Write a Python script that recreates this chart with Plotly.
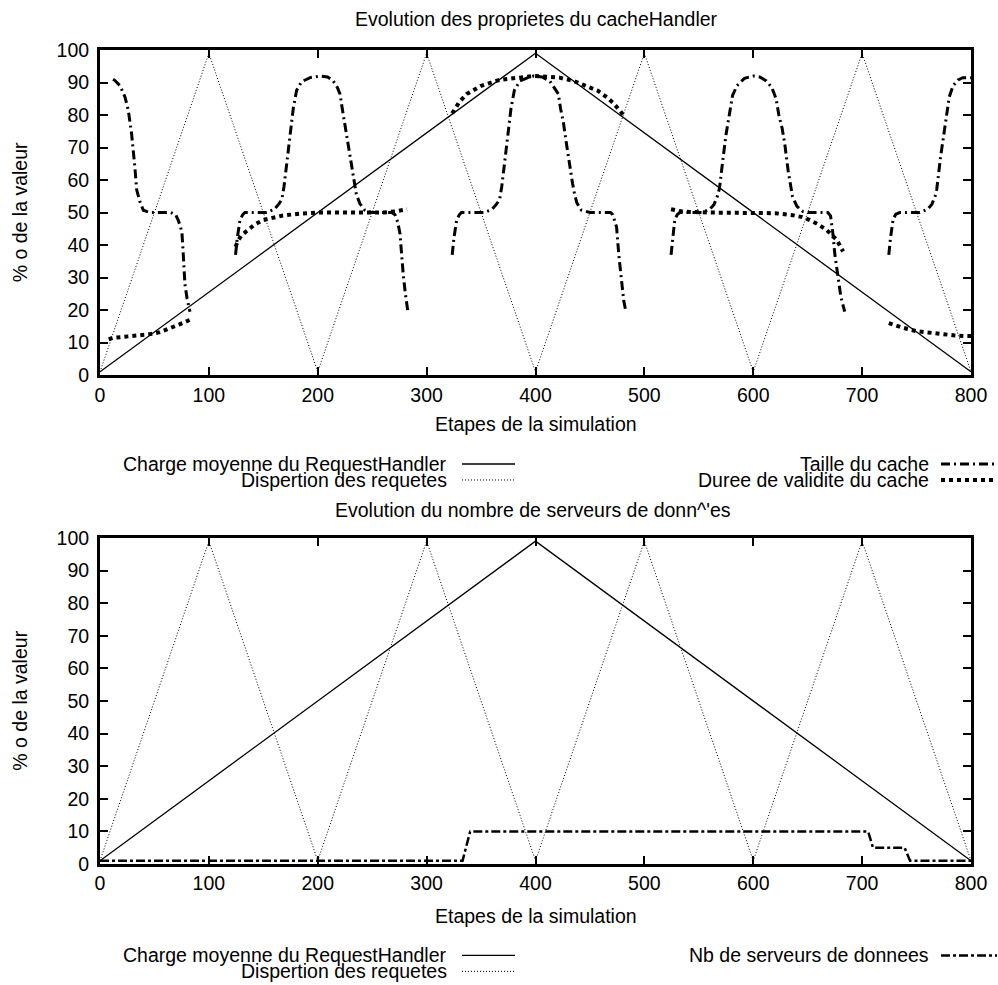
import plotly.graph_objects as go

# ---------------- data ----------------
steps_ticks = [0, 100, 200, 300, 400, 500, 600, 700, 800]
pct_ticks = [0, 10, 20, 30, 40, 50, 60, 70, 80, 90, 100]

charge_x = [0, 400, 800]
charge_y = [1, 99, 1]

disp_x = [0, 100, 200, 300, 400, 500, 600, 700, 800]
disp_y = [1, 99, 1, 99, 1, 99, 1, 99, 1]

# Taille du cache (5 segments)
taille_x1 = [12, 13.8, 18.4, 23, 26, 29, 32, 33.7, 36.7, 39.8, 46, 55, 65, 69.5, 72, 74, 75.3, 76.5, 78, 80, 82.6]
taille_y1 = [91, 90.6, 89, 85.5, 81.4, 74.3, 64, 57, 53.3, 50.7, 50, 50, 50, 49.3, 47.5, 45.5, 43.6, 37, 28, 23.5, 19.5]

taille_x2 = [124.5, 126, 128.6, 131, 133, 140, 153, 160, 164, 167, 169, 171.5, 174.5, 177.5, 180.6, 185, 193, 202, 209, 214, 218, 220.4, 222.5, 224.5, 226.5, 229, 232.6, 235.5, 238.8, 243, 250, 260, 268, 271, 273.5, 275.5, 277, 278.5, 280.5, 282.8]
taille_y2 = [37, 42, 47.7, 49.3, 50, 50, 50, 51, 52.5, 54, 58, 65, 74.3, 82, 87.6, 90.2, 91.5, 92, 91.7, 90.6, 88.5, 86.5, 82, 78, 74.3, 68, 61, 55.5, 52.7, 50.8, 50, 50, 50, 49.3, 47, 43.6, 37, 31, 25, 19.5]

taille_x3 = [323.5, 325, 327.6, 330, 332, 340, 353, 360, 364, 367, 369, 371.5, 374.5, 377.5, 380.6, 385.6, 393, 398, 406, 413, 417, 421, 423, 425.5, 428.5, 431, 434, 436, 438, 442, 450, 460, 469, 471, 473, 474.5, 476.5, 479, 481, 483]
taille_y3 = [37, 42, 47.7, 49.3, 50, 50, 50, 51, 52.5, 54, 58, 65, 74.3, 82, 87.6, 90.5, 91.5, 92, 91.7, 90.5, 88.5, 86.5, 82, 78, 71, 65, 59, 55.5, 53, 50.8, 50, 50, 50, 49.3, 47, 45.5, 37, 28, 23, 19.5]

taille_x4 = [524.5, 526, 528, 530.5, 532.6, 540, 553, 560, 564, 567, 569, 572, 575, 578.5, 581, 585, 592, 600, 606, 612, 617, 621, 623.5, 626.5, 629, 632, 636, 640, 645.6, 650, 660, 668.5, 671, 673, 675, 678, 680.5, 684]
taille_y4 = [37, 42, 48, 49.5, 50, 50, 50, 51, 52.5, 55, 57.5, 66, 74, 81, 86, 89, 91.3, 92, 91.7, 90.5, 88.5, 85, 80, 76, 71, 63, 55, 52, 50.3, 50, 50, 50, 49, 44, 37, 30, 24, 19.5]

taille_x5 = [724.5, 726, 728.5, 731, 734.6, 745, 753, 760, 764, 767, 768.5, 772, 775, 777.6, 780, 783.5, 788, 792.5, 800]
taille_y5 = [37, 42, 48, 49.5, 50, 50, 50, 51, 52.5, 55, 57, 67, 74, 81, 85.5, 89, 90.8, 91.5, 91.5]

# Duree de validite du cache (5 segments)
duree_x1 = [8, 12, 20, 30, 40, 46, 55, 62, 67, 73, 78, 82.6]
duree_y1 = [11, 11.5, 11.7, 12, 12.3, 12.6, 13.2, 14, 14.8, 15.6, 16.3, 17]

duree_x2 = [124.5, 127, 130, 135, 142, 150, 160, 168, 185, 199, 220, 240, 260, 272, 282]
duree_y2 = [39.5, 41.5, 43, 44.3, 46.3, 47.7, 48.6, 49.1, 49.7, 50, 50, 50, 50, 50.4, 51]

duree_x3 = [323.5, 330, 337, 350, 367, 385, 398, 410, 422, 435, 447, 457, 465.5, 472, 479, 482]
duree_y3 = [80.5, 84, 86.5, 89, 90.8, 91.5, 92, 91.8, 91.5, 90.5, 89, 87.5, 85.5, 83.5, 80.7, 79]

duree_x4 = [524.5, 535, 560, 600, 620, 636, 645, 652, 660, 667.5, 672, 676.7, 682.5]
duree_y4 = [51, 50.3, 50, 50, 49.8, 49.2, 48.6, 47.7, 46.3, 44.6, 43, 41.6, 38]

duree_x5 = [724.5, 735, 750, 762, 774, 785, 796, 800]
duree_y5 = [16, 14.8, 13.5, 13, 12.5, 12.2, 12, 12]

# Nb de serveurs de donnees
serveurs_x = [0, 333, 340, 705.5, 710, 739, 744, 800]
serveurs_y = [1, 1, 10, 10, 5, 5, 1, 1]

title_top = "Evolution des proprietes du cacheHandler"
title_bottom = "Evolution du nombre de serveurs de donn^'es"
xlabel = "Etapes de la simulation"
ylabel = "% o de la valeur"
leg_charge = "Charge moyenne du RequestHandler"
leg_disp = "Dispertion des requetes"
leg_taille = "Taille du cache"
leg_duree = "Duree de validite du cache"
leg_serveurs = "Nb de serveurs de donnees"


def join(*segs):
    out = []
    for i, s in enumerate(segs):
        if i:
            out.append(None)
        out.extend(s)
    return out


taille_x = join(taille_x1, taille_x2, taille_x3, taille_x4, taille_x5)
taille_y = join(taille_y1, taille_y2, taille_y3, taille_y4, taille_y5)
duree_x = join(duree_x1, duree_x2, duree_x3, duree_x4, duree_x5)
duree_y = join(duree_y1, duree_y2, duree_y3, duree_y4, duree_y5)

# ---------------- layout geometry ----------------
W, H = 998, 985
L, R, T, B = 100, 27, 49.5, 120.5
PW = W - L - R
PH = H - T - B
FONT = "Liberation Sans, Arial, Helvetica, sans-serif"
FS = 19.5

def px(x):
    return (x - L) / PW

def py(y):
    return (H - B - y) / PH

STY_CHARGE = dict(color="black", width=1.3)
STY_DISP = dict(color="black", width=1, dash="1px,2px")
STY_TAILLE = dict(color="black", width=3, dash="9px,4px,2px,4px")
STY_DUREE = dict(color="black", width=4, dash="4px,4px")
STY_SERV = dict(color="black", width=2.5, dash="9px,3px,3px,3px")

fig = go.Figure()
# top panel
fig.add_trace(go.Scatter(x=charge_x, y=charge_y, mode="lines", line=STY_CHARGE, xaxis="x", yaxis="y"))
fig.add_trace(go.Scatter(x=disp_x, y=disp_y, mode="lines", line=STY_DISP, xaxis="x", yaxis="y"))
fig.add_trace(go.Scatter(x=taille_x, y=taille_y, mode="lines", line=STY_TAILLE, xaxis="x", yaxis="y"))
fig.add_trace(go.Scatter(x=duree_x, y=duree_y, mode="lines", line=STY_DUREE, xaxis="x", yaxis="y"))
# bottom panel
fig.add_trace(go.Scatter(x=charge_x, y=charge_y, mode="lines", line=STY_CHARGE, xaxis="x2", yaxis="y2"))
fig.add_trace(go.Scatter(x=disp_x, y=disp_y, mode="lines", line=STY_DISP, xaxis="x2", yaxis="y2"))
fig.add_trace(go.Scatter(x=serveurs_x, y=serveurs_y, mode="lines", line=STY_SERV, xaxis="x2", yaxis="y2"))

axis_common = dict(
    showline=True, linewidth=3, linecolor="black", mirror="allticks",
    ticks="inside", ticklen=8, tickwidth=2, tickcolor="black",
    showgrid=False, zeroline=False,
    tickfont=dict(family=FONT, size=FS, color="black"),
)
top_dom = [py(375), 1]
bot_dom = [0, py(538)]

fig.update_layout(
    width=W, height=H,
    margin=dict(l=L, r=R, t=T, b=B, autoexpand=False),
    paper_bgcolor="white", plot_bgcolor="white",
    showlegend=False,
    hovermode=False,
    font=dict(family=FONT, size=FS, color="black"),
    xaxis=dict(domain=[0, 1], anchor="y", range=[0, 800], tickvals=steps_ticks, **axis_common),
    yaxis=dict(domain=top_dom, anchor="x", range=[0, 100], tickvals=pct_ticks, ticklabelstandoff=4, **axis_common),
    xaxis2=dict(domain=[0, 1], anchor="y2", range=[0, 800], tickvals=steps_ticks, **axis_common),
    yaxis2=dict(domain=bot_dom, anchor="x2", range=[0, 100], tickvals=pct_ticks, ticklabelstandoff=4, **axis_common),
)

ann = []
def text(t, x, y, xanchor="center", angle=0):
    ann.append(dict(text=t, x=px(x), y=py(y), xref="paper", yref="paper",
                    xanchor=xanchor, yanchor="middle", showarrow=False, textangle=angle,
                    font=dict(family=FONT, size=FS, color="black")))

text(title_top, 536, 18)
text(title_bottom, 533, 510)
text(xlabel, 536, 424)
text(xlabel, 536, 917)
text(ylabel, 20, 212, angle=-90)
text(ylabel, 20, 701, angle=-90)

shapes = []
def sample(x0, x1, y, style):
    shapes.append(dict(type="line", xref="paper", yref="paper", x0=px(x0), x1=px(x1),
                       y0=py(y), y1=py(y), line=style))

# top legend
text(leg_charge, 449, 464, xanchor="right")
sample(462, 515, 464, STY_CHARGE)
text(leg_disp, 449, 480, xanchor="right")
sample(462, 515, 480, STY_DISP)
text(leg_taille, 931, 464, xanchor="right")
sample(941, 997, 464, STY_TAILLE)
text(leg_duree, 931, 480, xanchor="right")
sample(941, 997, 480, STY_DUREE)
# bottom legend
text(leg_charge, 449, 956, xanchor="right")
sample(462, 515, 956, STY_CHARGE)
text(leg_disp, 449, 972, xanchor="right")
sample(462, 515, 972, STY_DISP)
text(leg_serveurs, 931, 956, xanchor="right")
sample(941, 997, 956, STY_SERV)

fig.update_layout(annotations=ann, shapes=shapes)
fig.write_html(
    "out.html",
    config={"displayModeBar": False, "staticPlot": True},
    post_script="document.body.style.margin='0';document.body.style.padding='0';document.body.style.overflow='hidden';",
)
